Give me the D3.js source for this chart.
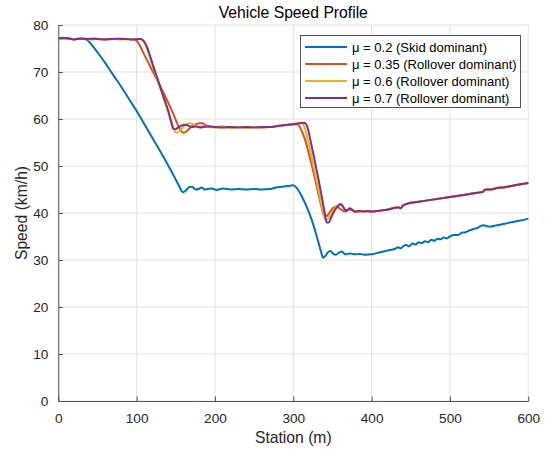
<!DOCTYPE html>
<html>
<head>
<meta charset="utf-8">
<script src="https://cdn.jsdelivr.net/npm/d3@7"></script>
<style>
  html, body { margin: 0; padding: 0; background: #ffffff; }
  svg { display: block; font-family: "Liberation Sans", Arial, Helvetica, sans-serif; }
</style>
</head>
<body>
<svg id="chart" width="548" height="449"></svg>
<script>
// Speed profile along the route for four friction coefficients.
const xTicks = [0, 100, 200, 300, 400, 500, 600];
const yTicks = [0, 10, 20, 30, 40, 50, 60, 70, 80];

const seriesNames = [
  "μ = 0.2 (Skid dominant)",
  "μ = 0.35 (Rollover dominant)",
  "μ = 0.6 (Rollover dominant)",
  "μ = 0.7 (Rollover dominant)"
];
const seriesColors = ["#0072BD", "#D95319", "#EDB120", "#7E2F8E"];

// μ = 0.2
const stationSkid = [0, 10, 20, 30, 36, 40, 45, 50, 60, 70, 81, 90, 100, 112, 125, 137, 150, 155, 159, 163, 167, 171, 175, 179, 183, 187, 191, 196, 202, 210, 220, 230, 240, 250, 260, 270, 280, 290, 296, 300, 304, 308, 315, 323, 330, 335, 338, 341, 344, 347.5, 351, 354, 358, 362, 366, 369, 373, 378, 385, 392, 400, 410, 420, 430, 434, 437, 440, 444, 448, 452, 456, 460, 464, 468, 472, 476, 480, 484, 488, 492, 496, 500, 505, 510, 515, 520, 525, 530, 535, 540, 543, 547, 551, 560, 570, 580, 590, 600];
const speedSkid = [77.0, 77.2, 77.0, 77.1, 76.9, 76.3, 75.3, 74.2, 71.9, 69.4, 66.7, 64.3, 61.7, 58.3, 54.6, 51.1, 47.1, 45.5, 44.4, 44.8, 45.5, 45.6, 45.0, 45.1, 45.4, 45.0, 45.1, 45.2, 44.9, 45.2, 45.0, 45.1, 45.0, 45.1, 45.0, 45.1, 45.5, 45.7, 45.8, 45.9, 45.4, 44.4, 42.1, 38.8, 35.0, 32.0, 30.5, 30.9, 31.6, 31.9, 31.3, 31.1, 31.5, 31.8, 31.2, 31.3, 31.4, 31.2, 31.3, 31.1, 31.2, 31.6, 32.0, 32.4, 32.7, 32.5, 32.9, 33.2, 32.9, 33.5, 33.3, 33.8, 33.6, 34.0, 33.8, 34.3, 34.1, 34.5, 34.4, 34.8, 34.6, 35.0, 35.3, 35.3, 35.8, 35.9, 36.3, 36.6, 36.8, 37.3, 37.4, 37.2, 37.1, 37.4, 37.7, 38.1, 38.4, 38.8];

// μ = 0.35
const station035 = [0, 10, 20, 30, 40, 50, 60, 70, 80, 90, 98, 102, 110, 120, 130, 140, 148, 153, 157, 160, 164, 168, 172, 176, 180, 184, 188, 193, 200, 210, 220, 230, 240, 250, 260, 270, 280, 290, 300, 306, 310, 315, 320, 325, 330, 335, 339.5, 343, 347, 351, 355, 359, 363, 367, 371, 375, 380, 390, 400, 410, 420, 430, 434, 437, 440, 444, 460, 480, 500, 520, 535, 539, 542, 544, 547, 552, 560, 570, 580, 590, 600];
const speed035 = [77.0, 77.2, 76.9, 77.1, 77.0, 77.1, 76.9, 77.0, 77.1, 77.0, 76.9, 76.2, 73.6, 70.3, 67.0, 63.6, 60.6, 58.6, 57.4, 57.1, 57.4, 58.1, 58.6, 58.9, 59.1, 59.1, 58.7, 58.4, 58.3, 58.4, 58.2, 58.3, 58.2, 58.3, 58.2, 58.3, 58.5, 58.7, 58.9, 58.8, 57.7, 55.6, 52.5, 49.2, 45.6, 42.0, 39.3, 39.4, 40.3, 41.1, 41.4, 41.0, 40.5, 40.3, 40.8, 40.6, 40.2, 40.4, 40.3, 40.5, 40.7, 41.1, 41.2, 41.0, 41.6, 41.9, 42.4, 42.9, 43.4, 43.9, 44.3, 44.4, 44.5, 44.9, 45.0, 45.0, 45.3, 45.5, 45.8, 46.1, 46.4];

// μ = 0.6
const station06 = [0, 10, 20, 30, 40, 50, 60, 70, 80, 90, 105, 108, 112, 120, 130, 140, 145, 149, 152, 156, 160, 164, 168, 172, 176, 180, 185, 190, 200, 210, 220, 230, 240, 250, 260, 270, 280, 290, 300, 310, 313, 317, 322, 327, 332, 337, 340, 342, 345, 349, 353, 357, 361, 365, 369, 373, 377, 382, 390, 400, 410, 420, 430, 434, 437, 440, 444, 460, 480, 500, 520, 535, 539, 542, 544, 547, 552, 560, 570, 580, 590, 600];
const speed06 = [77.0, 77.1, 77.0, 77.1, 76.9, 77.0, 77.1, 77.0, 76.9, 77.0, 77.0, 76.7, 75.5, 71.6, 66.6, 61.6, 59.2, 57.3, 57.1, 57.6, 58.4, 58.9, 59.1, 58.9, 58.5, 58.3, 58.5, 58.4, 58.2, 58.3, 58.2, 58.3, 58.2, 58.3, 58.2, 58.3, 58.5, 58.7, 59.0, 59.1, 58.8, 56.6, 53.0, 49.0, 45.0, 41.0, 39.0, 38.5, 38.9, 40.0, 41.0, 41.6, 41.7, 40.9, 40.6, 40.9, 40.5, 40.3, 40.4, 40.3, 40.5, 40.7, 41.1, 41.2, 41.0, 41.6, 41.9, 42.4, 42.9, 43.4, 43.9, 44.3, 44.4, 44.5, 44.9, 45.0, 45.0, 45.3, 45.5, 45.8, 46.1, 46.4];

// μ = 0.7
const station07 = [0, 5, 12, 20, 28, 36, 45, 55, 65, 75, 85, 95, 104, 108, 112, 116, 120, 128, 136, 141, 144, 146.5, 149, 153, 157, 162, 166, 170, 176, 182, 190, 200, 210, 220, 230, 240, 250, 260, 270, 280, 290, 300, 308, 313, 316, 319, 322, 327, 332, 337, 340, 342.5, 345, 349, 353, 357, 360, 363, 366, 369, 372, 375, 379, 384, 390, 395, 400, 410, 420, 430, 434, 437, 440, 444, 460, 480, 500, 520, 535, 539, 542, 544, 547, 552, 560, 570, 580, 590, 600];
const speed07 = [77.1, 77.3, 77.2, 76.9, 77.1, 77.0, 77.1, 76.9, 77.0, 77.1, 77.0, 76.9, 77.0, 76.8, 75.8, 74.0, 71.9, 67.9, 63.9, 61.4, 59.4, 58.0, 57.8, 58.2, 58.6, 58.8, 58.6, 58.3, 58.4, 58.2, 58.4, 58.3, 58.2, 58.3, 58.2, 58.3, 58.2, 58.3, 58.3, 58.5, 58.7, 58.9, 59.1, 59.2, 59.0, 57.7, 55.4, 51.4, 47.3, 42.9, 40.1, 38.0, 38.0, 39.3, 40.6, 41.5, 41.9, 41.5, 40.7, 40.6, 41.0, 40.7, 40.3, 40.5, 40.3, 40.4, 40.3, 40.5, 40.7, 41.1, 41.2, 41.0, 41.6, 41.9, 42.4, 42.9, 43.4, 43.9, 44.3, 44.4, 44.5, 44.9, 45.0, 45.0, 45.3, 45.5, 45.8, 46.1, 46.4];

const stations = [stationSkid, station035, station06, station07];
const speeds = [speedSkid, speed035, speed06, speed07];

const svg = d3.select("#chart");
const plotLeft = 58.3, plotRight = 528.3, plotTop = 25, plotBottom = 401;

const x = d3.scaleLinear().domain([0, 600]).range([plotLeft, plotRight]);
const y = d3.scaleLinear().domain([0, 80]).range([plotBottom, plotTop]);

// grid
const grid = svg.append("g").attr("stroke", "#e2e2e2").attr("stroke-width", 1);
xTicks.forEach(t => grid.append("line")
  .attr("x1", x(t)).attr("x2", x(t)).attr("y1", plotTop).attr("y2", plotBottom));
yTicks.forEach(t => grid.append("line")
  .attr("x1", plotLeft).attr("x2", plotRight).attr("y1", y(t)).attr("y2", y(t)));

// axes with inward ticks
const axisColor = "#555555";
const xAxis = d3.axisBottom(x).tickValues(xTicks).tickSizeInner(-4.5).tickSizeOuter(0).tickPadding(12);
const yAxis = d3.axisLeft(y).tickValues(yTicks).tickSizeInner(-4.5).tickSizeOuter(0).tickPadding(10);

const gx = svg.append("g").attr("transform", `translate(0,${plotBottom})`).call(xAxis);
const gy = svg.append("g").attr("transform", `translate(${plotLeft},0)`).call(yAxis);
[gx, gy].forEach(g => {
  g.select(".domain").attr("stroke", axisColor).attr("stroke-width", 1);
  g.selectAll(".tick line").attr("stroke", axisColor);
  g.selectAll(".tick text").attr("fill", "#262626")
    .style("font-size", "13.6px")
    .style("font-family", "'Liberation Sans', Arial, Helvetica, sans-serif");
});

// series
const line = d3.line()
  .x(d => x(d[0]))
  .y(d => y(d[1]))
  .curve(d3.curveMonotoneX);

const plot = svg.append("g");
stations.forEach((st, i) => {
  const pts = st.map((s, j) => [s, speeds[i][j]]);
  plot.append("path")
    .datum(pts)
    .attr("d", line)
    .attr("fill", "none")
    .attr("stroke", seriesColors[i])
    .attr("stroke-width", 2)
    .attr("stroke-linejoin", "round");
});

// title and labels
svg.append("text")
  .attr("x", (plotLeft + plotRight) / 2).attr("y", 18)
  .attr("text-anchor", "middle")
  .style("font-size", "15.7px").attr("fill", "#000")
  .text("Vehicle Speed Profile");

svg.append("text")
  .attr("x", (plotLeft + plotRight) / 2).attr("y", 443)
  .attr("text-anchor", "middle")
  .style("font-size", "15.7px").attr("fill", "#262626")
  .text("Station (m)");

svg.append("text")
  .attr("transform", `translate(27,${(plotTop + plotBottom) / 2}) rotate(-90)`)
  .attr("text-anchor", "middle")
  .style("font-size", "15.7px").attr("fill", "#262626")
  .text("Speed (km/h)");

// legend
const lg = svg.append("g");
lg.append("rect")
  .attr("x", 300.5).attr("y", 35.5).attr("width", 220).attr("height", 72)
  .attr("fill", "#ffffff").attr("stroke", "#555555").attr("stroke-width", 1);
seriesNames.forEach((name, i) => {
  const yy = 47 + i * 17;
  lg.append("line")
    .attr("x1", 305).attr("x2", 347).attr("y1", yy).attr("y2", yy)
    .attr("stroke", seriesColors[i]).attr("stroke-width", 2);
  lg.append("text")
    .attr("x", 352).attr("y", yy).attr("dy", "0.35em")
    .style("font-size", "13px").attr("fill", "#000")
    .text(name);
});
</script>
</body>
</html>
